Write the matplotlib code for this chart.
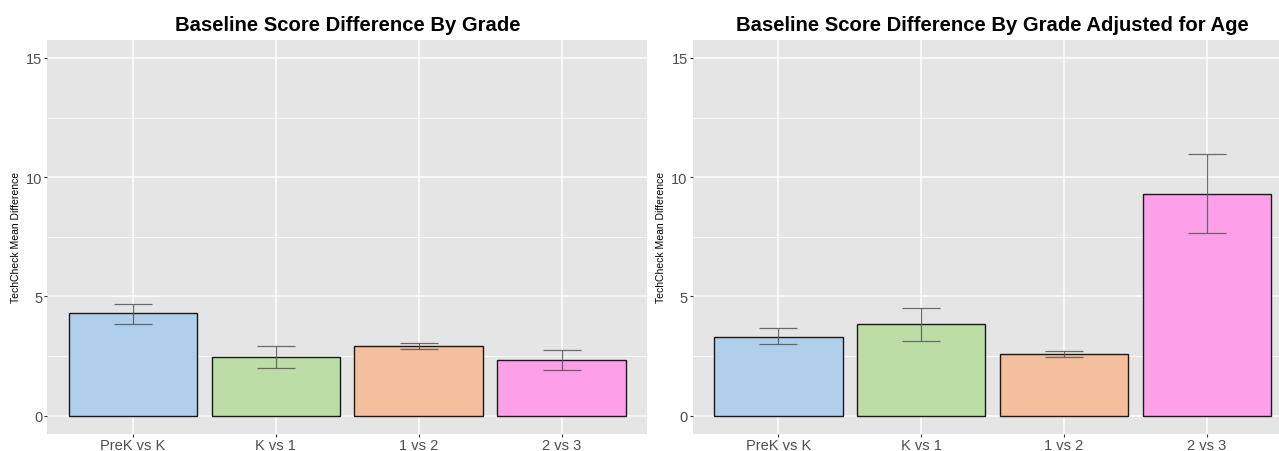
import numpy as np
import matplotlib
matplotlib.use('Agg')
import matplotlib.pyplot as plt

plt.rcParams['font.family'] = ['Liberation Sans', 'DejaVu Sans']

# -------------
# Data
# -------------
categories = ['PreK vs K', 'K vs 1', '1 vs 2', '2 vs 3']

grade_mean = [4.29, 2.44, 2.91, 2.32]
grade_lo = [3.85, 2.00, 2.79, 1.90]
grade_hi = [4.69, 2.91, 3.04, 2.75]

age_mean = [3.31, 3.83, 2.59, 9.31]
age_lo = [2.99, 3.12, 2.47, 7.65]
age_hi = [3.66, 4.53, 2.70, 10.98]

titles = ['Baseline Score Difference By Grade',
          'Baseline Score Difference By Grade Adjusted for Age']
ylabel = 'TechCheck Mean Difference'

bar_colors = ['#B0CFEB', '#BCDDA6', '#F5BF9E', '#FDA0E9']

# -------------
# Plot
# -------------
W, H = 1279., 452.
fig = plt.figure(figsize=(W / 100, H / 100), dpi=100)
# the right panel runs past the right edge of the picture, as in the original
ax1 = fig.add_axes([47.3 / W, 17.5 / H, 600 / W, 393.5 / H])
ax2 = fig.add_axes([692.6 / W, 17.5 / H, 600 / W, 393.5 / H])

panels = [(ax1, grade_mean, grade_lo, grade_hi, titles[0]),
          (ax2, age_mean, age_lo, age_hi, titles[1])]

for ax, mean, lo, hi, title in panels:
    x = np.arange(1, len(categories) + 1)
    ax.set_facecolor('#E5E5E5')
    ax.set_axisbelow(True)

    # grid like ggplot
    ax.set_yticks([0, 5, 10, 15])
    ax.set_yticks([2.5, 7.5, 12.5], minor=True)
    ax.set_xticks(x)
    ax.set_xticklabels(categories)
    ax.grid(which='major', color='white', lw=1.1)
    ax.grid(which='minor', axis='y', color='white', lw=0.55)

    ax.bar(x, mean, width=0.9, color=bar_colors, edgecolor='#1a1a1a', lw=1.0,
           zorder=2)
    mean = np.array(mean)
    yerr = [mean - np.array(lo), np.array(hi) - mean]
    ax.errorbar(x, mean, yerr=yerr, fmt='none', ecolor='#555555', elinewidth=0.9,
                capsize=14, capthick=0.9, alpha=0.85, zorder=3)

    ax.set_xlim(0.4, 4.6)
    ax.set_ylim(-0.75, 15.75)
    for s in ax.spines.values():
        s.set_visible(False)
    ax.tick_params(which='major', length=2.5, width=0.8, color='#333333',
                   labelsize=10.5, labelcolor='#4D4D4D', pad=1)
    ax.tick_params(axis='x', pad=0.5)
    ax.tick_params(which='minor', length=0)
    ax.set_ylabel(ylabel, fontsize=7.5, color='black', labelpad=4)
    ax.set_title(title, fontsize=14.6, fontweight='bold', pad=7)

plt.savefig('out.png', dpi=100)
plt.close()
